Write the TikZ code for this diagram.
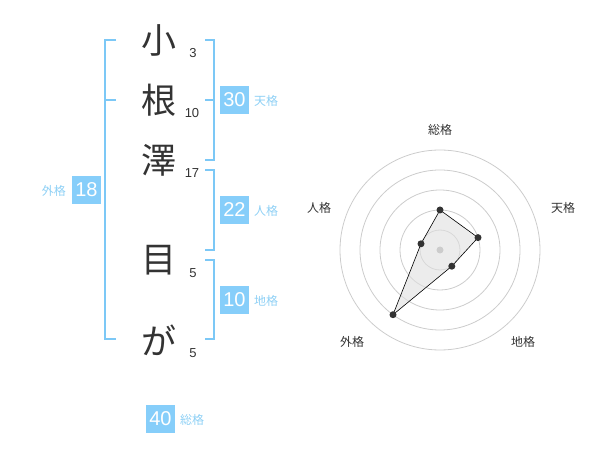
\documentclass[tikz,border=0pt]{standalone}
\usepackage{fontspec}
\setmainfont{Liberation Sans}
\newfontfamily\cjk{Noto Sans CJK JP}
\definecolor{brk}{HTML}{7CC8F6}
\definecolor{boxc}{HTML}{86CEFA}
\definecolor{lbl}{HTML}{8ED0F5}
\definecolor{ink}{HTML}{333333}
\definecolor{ring}{HTML}{CCCCCC}
\tikzset{
  bline/.style={draw=brk, line width=2pt},
  kanji/.style={font=\cjk\fontsize{35}{35}\selectfont, text=ink, inner sep=0pt},
  strokes/.style={font=\fontsize{13}{13}\selectfont, text=ink, inner sep=0pt},
  valbox/.style={fill=boxc, text=white, minimum width=28.5pt, minimum height=28.5pt, inner sep=0pt, font=\fontsize{20}{20}\selectfont},
  kaku/.style={text=lbl, font=\cjk\fontsize{12}{12}\selectfont, inner sep=0pt},
  rlabel/.style={text=ink, font=\cjk\fontsize{12}{12}\selectfont, inner sep=0pt},
  ringc/.style={draw=ring, line width=0.8pt},
  dot/.style={circle, fill=ink, minimum size=7pt, inner sep=0pt},
}
\begin{document}
\begin{tikzpicture}[x=1pt,y=-1pt]
\useasboundingbox (0,0) rectangle (600,470);
% characters
\node[kanji] (c1) at (159,40) {小};
\node[kanji] (c2) at (159,100) {根};
\node[kanji] (c3) at (159,160) {澤};
\node[kanji] (c4) at (159,260) {目};
\node[kanji] (c5) at (159,340) {が};
\node[strokes] (s1) at (193,53) {3};
\node[strokes] (s2) at (192,113) {10};
\node[strokes] (s3) at (192,173) {17};
\node[strokes] (s4) at (193,273) {5};
\node[strokes] (s5) at (193,353) {5};
% left bracket (gaikaku)
\coordinate (la) at (116,40);
\coordinate (lb) at (105,40);
\coordinate (lc) at (105,339);
\coordinate (ld) at (116,339);
\coordinate (lm1) at (105,100);
\coordinate (lm2) at (116,100);
\draw[bline] (la) -- (lb) -- (lc) -- (ld);
\draw[bline] (lm1) -- (lm2);
% right brackets
\coordinate (ta) at (205,40);
\coordinate (tb) at (214,40);
\coordinate (tc) at (214,160);
\coordinate (td) at (205,160);
\coordinate (tm1) at (205,100);
\coordinate (tm2) at (214,100);
\draw[bline] (ta) -- (tb) -- (tc) -- (td);
\draw[bline] (tm1) -- (tm2);
\coordinate (ja) at (205,170);
\coordinate (jb) at (214,170);
\coordinate (jc) at (214,250);
\coordinate (jd) at (205,250);
\draw[bline] (ja) -- (jb) -- (jc) -- (jd);
\coordinate (ca) at (205,260);
\coordinate (cb) at (214,260);
\coordinate (cc) at (214,339);
\coordinate (cd) at (205,339);
\draw[bline] (ca) -- (cb) -- (cc) -- (cd);
% value boxes
\node[valbox] (v30) at (234.5,100) {30};
\node[kaku, anchor=west] (k30) at (254,101) {天格};
\node[valbox] (v22) at (234.5,210) {22};
\node[kaku, anchor=west] (k22) at (254,211) {人格};
\node[valbox] (v10) at (234.5,300) {10};
\node[kaku, anchor=west] (k10) at (254,301) {地格};
\node[valbox] (v18) at (86.5,190) {18};
\node[kaku, anchor=east] (k18) at (66,191) {外格};
\node[valbox] (v40) at (160.5,419) {40};
\node[kaku, anchor=west] (k40) at (180,420) {総格};
% radar
\coordinate (rc) at (440,250);
\foreach \r in {20,40,60,80,100} \draw[ringc] (rc) circle (\r);
\coordinate (p1) at (440,210);
\coordinate (p2) at (478,237.6);
\coordinate (p3) at (451.8,266.2);
\coordinate (p4) at (393,314.7);
\coordinate (p5) at (421,243.8);
\fill[black!12, opacity=0.6] (p1) -- (p2) -- (p3) -- (p4) -- (p5) -- cycle;
\draw[black, line width=0.6pt] (p1) -- (p2) -- (p3) -- (p4) -- (p5) -- cycle;
\node[circle, fill=ring, minimum size=7pt, inner sep=0pt] (cen) at (rc) {};
\foreach \p in {p1,p2,p3,p4,p5} \node[dot] at (\p) {};
\node[rlabel] (r1) at (440,130) {総格};
\node[rlabel] (r2) at (563,208) {天格};
\node[rlabel] (r3) at (523,342) {地格};
\node[rlabel] (r4) at (352,342) {外格};
\node[rlabel] (r5) at (319,208) {人格};
\end{tikzpicture}
\end{document}
